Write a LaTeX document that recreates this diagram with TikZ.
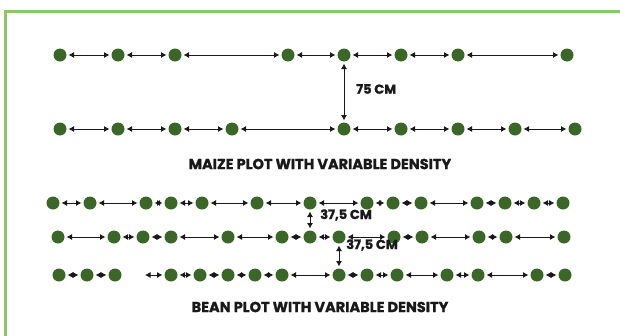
\documentclass[tikz,border=0pt]{standalone}
\usepackage{fontspec}
\setmainfont{Poppins}[BoldFeatures={FakeBold=1.2}]
\usetikzlibrary{arrows.meta}
\definecolor{plantgreen}{RGB}{58,102,40}
\definecolor{framegreen}{RGB}{140,198,104}
\definecolor{inkblack}{RGB}{25,25,25}
\tikzset{
  plant/.style={circle,fill=plantgreen,minimum size=13pt,inner sep=0pt,outer sep=2pt},
  gap/.style={{Latex[length=5.5pt,width=6pt]}-{Latex[length=5.5pt,width=6pt]},line width=0.9pt,inkblack},
  spacing/.style={font=\bfseries\fontsize{13}{13}\selectfont,anchor=west,inner sep=0pt,text=inkblack},
  plottitle/.style={font=\bfseries\fontsize{14.5}{14.5}\selectfont,inner sep=0pt,text=inkblack}
}
\begin{document}
\begin{tikzpicture}[x=1pt,y=-1pt]
\useasboundingbox (0,0) rectangle (620,335);
\draw[framegreen,line width=3pt] (623,11) -| (5,338);

% maize rows
\foreach \x [count=\i] in {60,118,175,288,344,401,458,567}
  \node[plant] (ma\i) at (\x,55) {};
\foreach \x [count=\i] in {60,118,175,232,344,401,458,515,575}
  \node[plant] (mb\i) at (\x,129) {};
\foreach \i [count=\j from 2] in {1,...,7} \draw[gap] (ma\i) -- (ma\j);
\foreach \i [count=\j from 2] in {1,...,8} \draw[gap] (mb\i) -- (mb\j);
\draw[gap] (ma5) -- (mb5);
\node[spacing] (dist75) at (356,89) {75 CM};
\node[plottitle] (maizetitle) at (320,164) {MAIZE PLOT WITH VARIABLE DENSITY};

% bean rows
\foreach \x [count=\i] in {53,90,146,171,202,257,310,367,393,421,477,505,534,563}
  \node[plant] (ba\i) at (\x,203) {};
\foreach \x [count=\i] in {58,114,143,171,228,282,310,339,394,422,479,506,564}
  \node[plant] (bb\i) at (\x,237) {};
\foreach \x [count=\i] in {59,87,115,171,200,228,255,282,339,367,397,447,478,537,565}
  \node[plant] (bc\i) at (\x,275) {};
\coordinate (bcfree) at (145,275);
\foreach \i [count=\j from 2] in {1,...,13} \draw[gap] (ba\i) -- (ba\j);
\foreach \i [count=\j from 2] in {1,...,12} \draw[gap] (bb\i) -- (bb\j);
\foreach \i [count=\j from 2] in {1,2} \draw[gap] (bc\i) -- (bc\j);
\draw[gap] (bcfree) -- (bc4);
\foreach \i [count=\j from 5] in {4,...,14} \draw[gap] (bc\i) -- (bc\j);
\draw[gap] (ba7) -- (bb7);
\draw[gap] (bb8) -- (bc9);
\node[spacing] (dist37a) at (320,215) {37,5 CM};
\node[spacing] (dist37b) at (346,245) {37,5 CM};
\node[plottitle] (beantitle) at (320,307) {BEAN PLOT WITH VARIABLE DENSITY};
\end{tikzpicture}
\end{document}
